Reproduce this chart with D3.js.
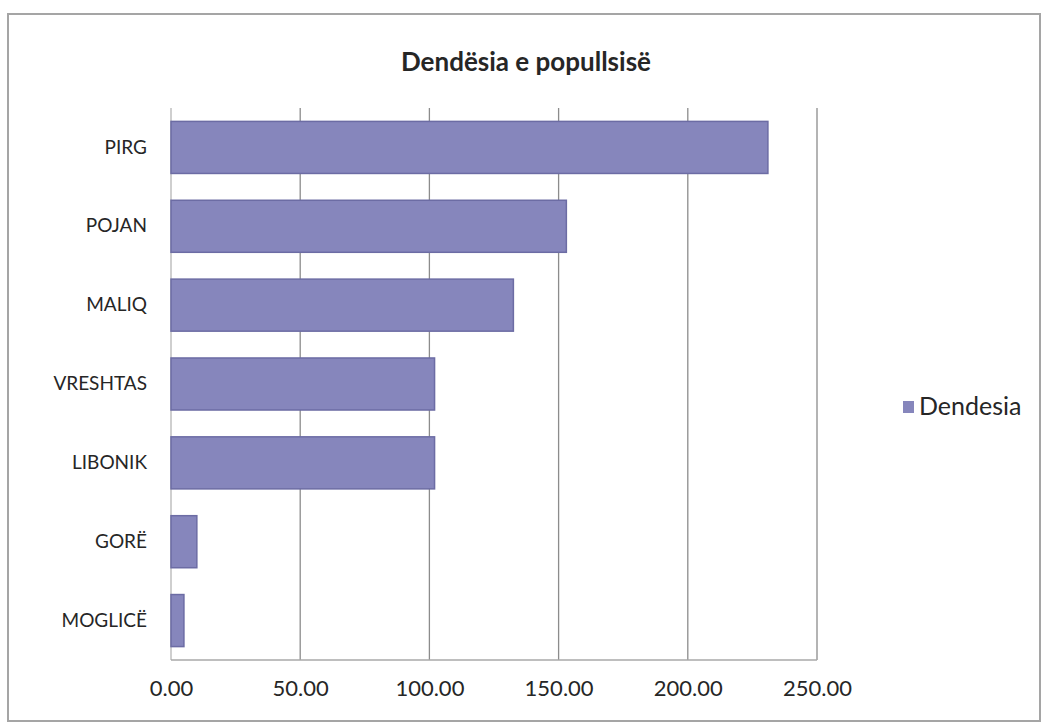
<!DOCTYPE html>
<html>
  <head>
    <meta charset="UTF-8" />
    <script src="https://d3js.org/d3.v7.min.js"></script>
    <style>
      body { margin: 0; background: #fff; }
      text { font-family: Lato, "Open Sans", sans-serif; fill: #262626; }
    </style>
  </head>
  <body>
    <svg width="1045" height="727"></svg>
    <script>
      // data
      const categories = ["PIRG", "POJAN", "MALIQ", "VRESHTAS", "LIBONIK", "GORË", "MOGLICË"]
      const values = [231, 153, 132.5, 102, 102, 10, 5]
      const xTicks = [0, 50, 100, 150, 200, 250]
      const seriesName = "Dendesia"
      const title = "Dendësia e popullsisë"

      const svg = d3.select("svg")
      const margin = { top: 108, left: 171, right: 228, bottom: 67 }
      const W = 1045, H = 727
      const iw = W - margin.left - margin.right
      const ih = H - margin.top - margin.bottom

      // outer frame
      svg.append("rect")
        .attr("x", 8).attr("y", 14)
        .attr("width", 1032).attr("height", 707)
        .attr("fill", "#fff")
        .attr("stroke", "#a5a5a5")
        .attr("stroke-width", 2)

      svg.append("text")
        .attr("x", 526).attr("y", 71)
        .attr("text-anchor", "middle")
        .attr("font-size", 26)
        .attr("font-weight", "bold")
        .attr("fill", "#333")
        .text(title)

      const g = svg.append("g")
        .attr("transform", "translate(" + margin.left + "," + margin.top + ")")

      const x = d3.scaleLinear().domain([0, 250]).range([0, iw])
      const y = d3.scaleBand().domain(categories).range([0, ih]).paddingInner(0.34).paddingOuter(0.17)

      // gridlines
      g.selectAll(".grid")
        .data(xTicks)
        .enter()
        .append("line")
        .attr("x1", d => x(d)).attr("x2", d => x(d))
        .attr("y1", 0).attr("y2", ih)
        .attr("stroke", d => d === 0 ? "#b5b5b5" : "#8c8c8c")
        .attr("stroke-width", 1.3)

      // bottom axis line
      g.append("line")
        .attr("x1", 0).attr("x2", iw)
        .attr("y1", ih).attr("y2", ih)
        .attr("stroke", "#a8a8a8")
        .attr("stroke-width", 1.3)

      // bars
      g.selectAll(".bar")
        .data(values)
        .enter()
        .append("rect")
        .attr("x", x(0))
        .attr("y", (d, i) => y(categories[i]))
        .attr("width", d => x(d) - x(0))
        .attr("height", y.bandwidth())
        .attr("fill", "#8686bc")
        .attr("stroke", "#6c6ca4")
        .attr("stroke-width", 1.5)

      // x axis
      const xAxis = d3.axisBottom(x).tickValues(xTicks).tickFormat(d3.format(".2f")).tickSize(0).tickPadding(20)
      const xa = g.append("g").attr("transform", "translate(0," + ih + ")").call(xAxis)
      xa.select(".domain").remove()
      xa.selectAll("text").attr("font-size", 22).style("font-family", "Lato, 'Open Sans', sans-serif").attr("fill", "#262626")

      // y axis
      const yAxis = d3.axisLeft(y).tickSize(0).tickPadding(24)
      const ya = g.append("g").call(yAxis)
      ya.select(".domain").remove()
      ya.selectAll("text").attr("font-size", 19).style("font-family", "Lato, 'Open Sans', sans-serif").attr("fill", "#262626")

      // legend
      const lg = svg.append("g").attr("transform", "translate(903,401)")
      lg.append("rect").attr("width", 11).attr("height", 12).attr("fill", "#8686bc")
      lg.append("text").attr("x", 16).attr("y", 14).attr("font-size", 25).text(seriesName)
    </script>
  </body>
</html>
